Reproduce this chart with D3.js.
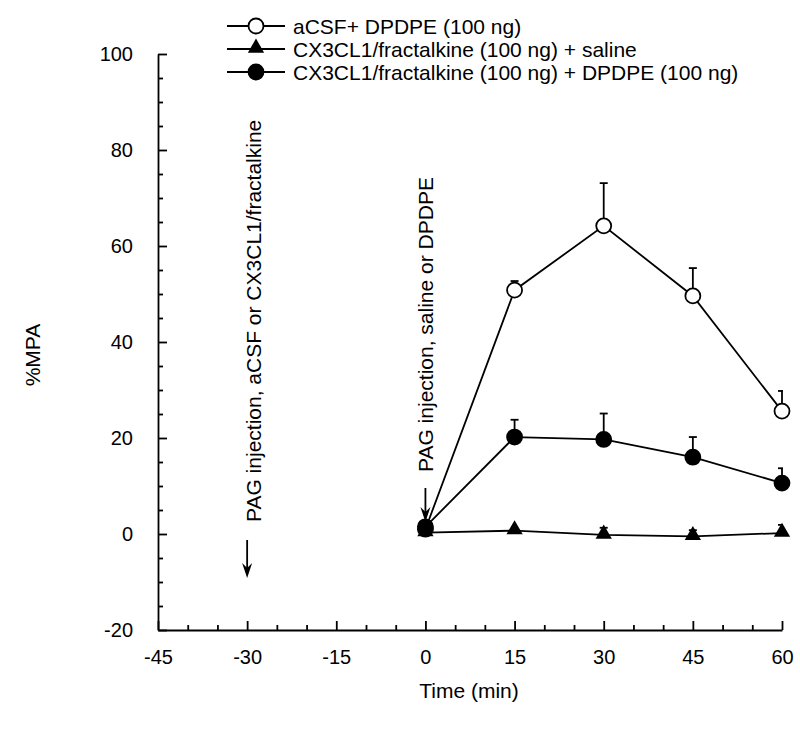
<!DOCTYPE html>
<html><head><meta charset="utf-8">
<script src="https://cdn.jsdelivr.net/npm/d3@7"></script>
<style>body{margin:0;background:#fff;} text{font-family:"Liberation Sans",Arial,sans-serif;}</style>
</head><body><svg id="c" width="800" height="737"></svg>
<script>
const times = [0, 15, 30, 45, 60];
const xTicks = [-45, -30, -15, 0, 15, 30, 45, 60];
const yTicks = [-20, 0, 20, 40, 60, 80, 100];
const seriesNames = ["aCSF+ DPDPE (100 ng)", "CX3CL1/fractalkine (100 ng) + saline", "CX3CL1/fractalkine (100 ng) + DPDPE (100 ng)"];
const acsfMean = [1.0, 50.8, 64.2, 49.6, 25.6];
const acsfErr  = [0, 1.9, 8.9, 5.8, 4.2];
const salineMean = [0.3, 0.7, -0.2, -0.5, 0.2];
const salineErr  = [0, 0, 1.5, 1.3, 1.7];
const dpdpeMean = [1.5, 20.2, 19.7, 16.0, 10.6];
const dpdpeErr  = [0, 3.6, 5.4, 4.2, 3.1];
const annot1 = "PAG injection, aCSF or CX3CL1/fractalkine";
const annot2 = "PAG injection, saline or DPDPE";

const svg = d3.select("#c");
const x = d3.scaleLinear().domain([-45, 60]).range([158, 782]);
const y = d3.scaleLinear().domain([-20, 100]).range([630, 54]);
const FS = 21, TFS = 20, SW = 1.8;

// minor ticks
const xMinor = d3.range(-45, 61, 5).filter(v => !xTicks.includes(v));
const yMinor = d3.range(-20, 101, 5).filter(v => !yTicks.includes(v));
svg.append("g").attr("transform", "translate(0,630)")
  .call(d3.axisBottom(x).tickValues(xMinor).tickSize(-5).tickFormat(""))
  .call(g => g.select(".domain").remove())
  .call(g => g.selectAll("line").attr("stroke", "#000").attr("stroke-width", SW));
svg.append("g").attr("transform", "translate(158,0)")
  .call(d3.axisLeft(y).tickValues(yMinor).tickSize(-5).tickFormat(""))
  .call(g => g.select(".domain").remove())
  .call(g => g.selectAll("line").attr("stroke", "#000").attr("stroke-width", SW));

const xa = svg.append("g").attr("transform", "translate(0,630)")
  .call(d3.axisBottom(x).tickValues(xTicks).tickSize(-9).tickSizeOuter(0).tickPadding(20).tickFormat(d => d < 0 ? "-" + Math.abs(d) : d));
xa.selectAll("text").attr("font-size", TFS).attr("fill", "#000").attr("font-family", "Liberation Sans, Arial, sans-serif");
xa.selectAll("line, path").attr("stroke", "#000").attr("stroke-width", SW);

const ya = svg.append("g").attr("transform", "translate(158,0)")
  .call(d3.axisLeft(y).tickValues(yTicks).tickSize(-9).tickSizeOuter(0).tickPadding(25).tickFormat(d => d < 0 ? "-" + Math.abs(d) : d));
ya.selectAll("text").attr("font-size", TFS).attr("fill", "#000").attr("font-family", "Liberation Sans, Arial, sans-serif");
ya.selectAll("line, path").attr("stroke", "#000").attr("stroke-width", SW);

svg.append("text").attr("x", 469).attr("y", 698).attr("text-anchor", "middle").attr("font-size", FS).text("Time (min)");
svg.append("text").attr("transform", "translate(40,355) rotate(-90)").attr("text-anchor", "middle").attr("font-size", FS).text("%MPA");

// annotations
function arrow(xv, y1, y2) {
  const px = x(xv);
  svg.append("line").attr("x1", px).attr("x2", px).attr("y1", y1).attr("y2", y2 - 8).attr("stroke", "#000").attr("stroke-width", SW);
  svg.append("path").attr("d", `M${px-5},${y2-15} L${px},${y2} L${px+5},${y2-15} L${px},${y2-10} Z`).attr("fill", "#000");
}
arrow(-30, 540, 578);
svg.append("text").attr("transform", `translate(${x(-30)+14},522) rotate(-90)`).attr("font-size", FS).text(annot1);
arrow(0, 488, 522);
svg.append("text").attr("transform", `translate(${x(0)+8},472) rotate(-90)`).attr("font-size", FS).text(annot2);

const series = [
  {name: seriesNames[0], mean: acsfMean, err: acsfErr, shape: "circle", fill: "#fff"},
  {name: seriesNames[1], mean: salineMean, err: salineErr, shape: "triangle", fill: "#000"},
  {name: seriesNames[2], mean: dpdpeMean, err: dpdpeErr, shape: "circle", fill: "#000"}
];
const line = d3.line().x(d => x(d.t)).y(d => y(d.v));
const triSym = d3.symbol().type(d3.symbolTriangle).size(115);
const xMaxPx = x.range()[1] + 1;

series.forEach(s => {
  const pts = times.map((t, i) => ({t, v: s.mean[i], e: s.err[i]}));
  const g = svg.append("g");
  pts.filter(p => p.e > 0).forEach(p => {
    g.append("line").attr("x1", x(p.t)).attr("x2", x(p.t)).attr("y1", y(p.v)).attr("y2", y(p.v + p.e)).attr("stroke", "#000").attr("stroke-width", SW);
    g.append("line").attr("x1", x(p.t) - 4).attr("x2", Math.min(x(p.t) + 4, xMaxPx)).attr("y1", y(p.v + p.e)).attr("y2", y(p.v + p.e)).attr("stroke", "#000").attr("stroke-width", SW);
  });
  g.append("path").datum(pts).attr("d", line).attr("fill", "none").attr("stroke", "#000").attr("stroke-width", SW);
  pts.forEach(p => {
    if (s.shape === "circle") {
      g.append("circle").attr("cx", x(p.t)).attr("cy", y(p.v)).attr("r", 7.5).attr("fill", s.fill).attr("stroke", "#000").attr("stroke-width", SW);
    } else {
      g.append("path").attr("d", triSym()).attr("transform", `translate(${x(p.t)},${y(p.v) - 1})`).attr("fill", "#000");
    }
  });
});

// legend
const legY = [26, 49, 72];
series.forEach((s, i) => {
  const g = svg.append("g").attr("transform", `translate(0,${legY[i]})`);
  g.append("line").attr("x1", 227).attr("x2", 285).attr("y1", 0).attr("y2", 0).attr("stroke", "#000").attr("stroke-width", SW);
  if (s.shape === "circle") g.append("circle").attr("cx", 256).attr("cy", 0).attr("r", 7.5).attr("fill", s.fill).attr("stroke", "#000").attr("stroke-width", SW);
  else g.append("path").attr("d", triSym()).attr("transform", "translate(256,-1)").attr("fill", "#000");
  g.append("text").attr("x", 293).attr("y", 7.5).attr("font-size", FS).text(s.name);
});
</script></body></html>
